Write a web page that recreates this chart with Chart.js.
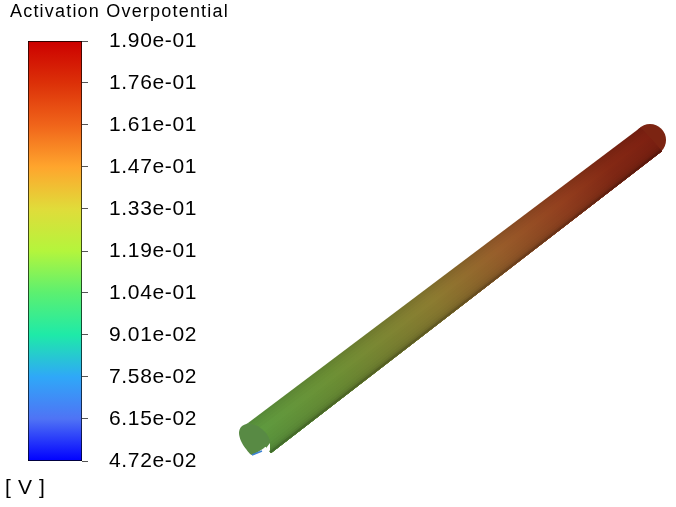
<!DOCTYPE html>
<html>
<head>
<meta charset="utf-8">
<title>Activation Overpotential</title>
<script src="https://cdn.jsdelivr.net/npm/chart.js@4"></script>
<style>
  html, body { margin: 0; padding: 0; background: #fff; }
  #page { position: relative; width: 676px; height: 507px; overflow: hidden; }
  canvas { position: absolute; left: 0; top: 0; }
</style>
</head>
<body>
<div id="page">
  <canvas id="tube" width="676" height="507"></canvas>
  <canvas id="bar" width="230" height="507"></canvas>
</div>
<script>
// Colour bar
const barTitle = "Activation Overpotential";
const barUnit = "[ V ]";
const tickValues = [0.0472, 0.0615, 0.0758, 0.0901, 0.1044, 0.1186, 0.1329, 0.1472, 0.1615, 0.1758, 0.19];
const tickLabels = ["4.72e-02", "6.15e-02", "7.58e-02", "9.01e-02", "1.04e-01", "1.19e-01", "1.33e-01", "1.47e-01", "1.61e-01", "1.76e-01", "1.90e-01"];
const barColors = ["#0000ff", "#4f73f5", "#2fa8f8", "#1eeaa8", "#5cf070", "#b4f53c", "#e0dc3a", "#ffa52d", "#f0641a", "#dc3008", "#cc0000"];

// Tube, in projected picture units
const nearTop = [248, 423];
const nearBottom = [271, 453];
const farTop = [640.5, 127.5];
const farBottom = [662, 151];
const farCapX = [650];
const farCapY = [140];
const nearCapX = [248, 241, 239, 241, 246, 252, 258, 264, 270, 266, 258];
const nearCapY = [423, 427, 433, 441, 449, 455, 452, 448, 442, 433, 426];
const notchX = [270, 263, 267, 270];
const notchY = [443, 452, 456, 450];
const rimX = [252, 257, 262];
const rimY = [455, 453, 451];

// colour along the tube and shading across it
const alongStops = [0, 0.2, 0.45, 0.62, 0.78, 0.9, 1];
const alongColors = [[92, 152, 62], [108, 142, 52], [138, 122, 48], [150, 92, 42], [145, 62, 30], [130, 40, 20], [124, 32, 17]];
const acrossStops = [0, 0.06, 0.13, 0.2, 0.28, 0.36, 0.44, 0.52, 0.6, 0.68, 0.76, 0.83, 0.89, 0.94, 1];
const acrossShades = [0.9, 0.93, 0.96, 0.98, 1.0, 1.02, 1.01, 0.99, 0.98, 0.97, 0.95, 0.92, 0.88, 0.8, 0.62];

const lerp = (a, b, t) => a + (b - a) * t;

const tubeGradient = (context, shade) => {
  const { ctx, scales } = context.chart;
  const x0 = scales.x ? scales.x.getPixelForValue(nearTop[0]) : NaN;
  if (!Number.isFinite(x0)) return "#888";
  const g = ctx.createLinearGradient(
    x0, scales.y.getPixelForValue(nearTop[1]),
    scales.x.getPixelForValue(farTop[0]), scales.y.getPixelForValue(farTop[1]));
  alongStops.forEach((s, i) => {
    const c = alongColors[i].map(v => Math.round(v * shade));
    g.addColorStop(s, `rgb(${c.join(",")})`);
  });
  return g;
};

// one quad per shaded strip, each runs down to the bottom edge and the next paints over it
const stripDatasets = acrossStops.slice(0, -1).map((u, i) => {
  const corner = (a, b, t) => ({ x: lerp(a[0], b[0], t), y: lerp(a[1], b[1], t) });
  const shade = (acrossShades[i] + acrossShades[i + 1]) / 2;
  return {
    data: [corner(nearTop, nearBottom, u), corner(farTop, farBottom, u), corner(farTop, farBottom, 1), corner(nearTop, nearBottom, 1), corner(nearTop, nearBottom, u)],
    showLine: true,
    fill: "shape",
    pointRadius: 0,
    borderWidth: 0,
    backgroundColor: c => tubeGradient(c, shade),
    order: 100 - i
  };
});

const toPoints = (xs, ys) => xs.map((x, i) => ({ x, y: ys[i] }));

new Chart(document.getElementById("tube"), {
  type: "scatter",
  data: {
    datasets: [
      { data: toPoints(rimX, rimY), showLine: true, pointRadius: 0, borderWidth: 1.5, borderColor: "#3c82d2", order: 1 },
      { data: toPoints(notchX, notchY), showLine: true, fill: "shape", pointRadius: 0, borderWidth: 0, backgroundColor: "#fff", order: 2 },
      { data: toPoints(nearCapX, nearCapY), showLine: true, fill: "shape", tension: 0.3, pointRadius: 0, borderWidth: 0, backgroundColor: "#588a44", order: 3 },
      ...stripDatasets,
      { data: toPoints(farCapX, farCapY), pointRadius: 16, pointBorderWidth: 0, pointBackgroundColor: "#7c2412", order: 200 }
    ]
  },
  options: {
    responsive: false,
    animation: false,
    layout: { padding: 0, autoPadding: false },
    plugins: { legend: { display: false }, tooltip: { enabled: false } },
    scales: {
      x: { display: false, min: 0, max: 676 },
      y: { display: false, min: 0, max: 507, reverse: true }
    }
  }
});

// title, unit and wider letter spacing for the colour bar texts
const barTexts = {
  id: "barTexts",
  beforeDraw(chart) {
    chart.ctx.letterSpacing = "0.65px";
  },
  afterDraw(chart) {
    const ctx = chart.ctx;
    ctx.save();
    ctx.fillStyle = "#000";
    ctx.textAlign = "left";
    ctx.textBaseline = "alphabetic";
    ctx.letterSpacing = "1.2px";
    ctx.font = "18px 'Liberation Sans'";
    ctx.fillText(barTitle, 10, 17);
    ctx.letterSpacing = "0.65px";
    ctx.font = "21px 'Liberation Sans'";
    ctx.fillText(barUnit, 5, 494);
    ctx.restore();
  }
};

const barGradient = context => {
  const { ctx, scales } = context.chart;
  const y = scales.y;
  const y0 = y ? y.getPixelForValue(y.min) : NaN;
  if (!Number.isFinite(y0)) return barColors[0];
  const g = ctx.createLinearGradient(0, y0, 0, y.getPixelForValue(y.max));
  barColors.forEach((c, i) => {
    g.addColorStop((tickValues[i] - y.min) / (y.max - y.min), c);
  });
  return g;
};

new Chart(document.getElementById("bar"), {
  type: "bar",
  data: {
    labels: [""],
    datasets: [{
      data: [[tickValues[0], tickValues[tickValues.length - 1]]],
      backgroundColor: barGradient,
      borderColor: "#000",
      borderWidth: 1,
      borderSkipped: false,
      barPercentage: 1,
      categoryPercentage: 1
    }]
  },
  options: {
    responsive: false,
    animation: false,
    layout: { padding: { left: 28, top: 41, bottom: 46 } },
    plugins: { legend: { display: false }, tooltip: { enabled: false } },
    scales: {
      x: { display: false },
      y: {
        position: "right",
        min: tickValues[0],
        max: tickValues[tickValues.length - 1],
        afterBuildTicks: axis => { axis.ticks = tickValues.map(value => ({ value })); },
        afterFit: axis => { axis.width = 148; },
        border: { display: false },
        grid: { drawOnChartArea: false, tickLength: 6, color: "#555" },
        ticks: {
          autoSkip: false,
          maxRotation: 0,
          padding: 21,
          color: "#000",
          font: { family: "'Liberation Sans'", size: 21 },
          callback: (value, i) => tickLabels[i]
        }
      }
    }
  },
  plugins: [barTexts]
});
</script>
</body>
</html>
